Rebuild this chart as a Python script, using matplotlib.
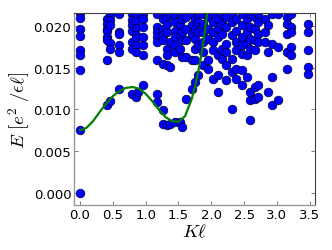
import matplotlib
matplotlib.use("Agg")
import matplotlib.pyplot as plt

# momentum columns and energies
k_cols = [0.0, 0.41, 0.46, 0.59, 0.79, 0.86, 0.89, 0.96, 1.17, 1.26, 1.32, 1.37,
          1.45, 1.52, 1.56, 1.62, 1.70, 1.75, 1.80, 1.88, 1.95, 2.03, 2.10, 2.16,
          2.23, 2.31, 2.38, 2.46, 2.54, 2.59, 2.66, 2.71, 2.82, 2.87, 2.92, 3.02,
          3.15, 3.22, 3.47]
e_cols = [
    [0.0216, 0.0210, 0.0197, 0.0188, 0.0172, 0.0166, 0.0147, 0.0075, 0.0],
    [0.0209, 0.0203, 0.0197, 0.0194, 0.0187, 0.0183, 0.0159, 0.0105],
    [0.0214, 0.0208, 0.0202, 0.0180, 0.0173, 0.0110],
    [0.0215, 0.0193, 0.0191, 0.0177, 0.0169, 0.0125],
    [0.0215, 0.0208, 0.0202, 0.0195, 0.0181, 0.0173, 0.0119],
    [0.0215, 0.0206, 0.0198, 0.0190, 0.0186, 0.0177, 0.0169, 0.0115],
    [0.0121],
    [0.0215, 0.0209, 0.0199, 0.0187, 0.0177, 0.0166, 0.0129],
    [0.0215, 0.0199, 0.0193, 0.0187, 0.0181, 0.0159, 0.0119, 0.0109],
    [0.0215, 0.0209, 0.0197, 0.0190, 0.0183, 0.0155, 0.0099, 0.0083],
    [0.0211, 0.0203, 0.0193, 0.0173, 0.0165, 0.0153, 0.0081],
    [0.0215, 0.0181, 0.0151, 0.0082],
    [0.0211, 0.0205, 0.0195, 0.0187, 0.0177, 0.0169, 0.0085],
    [0.0215, 0.0202, 0.0190, 0.0173, 0.0085],
    [0.0209, 0.0193, 0.0183, 0.0163, 0.0079],
    [0.0211, 0.0197, 0.0183, 0.0163, 0.0113],
    [0.0215, 0.0202, 0.0191, 0.0159, 0.0125],
    [0.0209, 0.0197, 0.0185, 0.0173, 0.0159, 0.0133],
    [0.0215, 0.0205, 0.0193, 0.0177, 0.0141],
    [0.0215, 0.0203, 0.0193, 0.0181, 0.0169, 0.0153],
    [0.0211, 0.0197, 0.0185, 0.0159, 0.0149],
    [0.0215, 0.0205, 0.0193, 0.0181, 0.0171, 0.0137],
    [0.0209, 0.0197, 0.0187, 0.0165, 0.0141, 0.0121],
    [0.0215, 0.0203, 0.0191, 0.0173, 0.0161],
    [0.0211, 0.0199, 0.0179, 0.0169, 0.0153, 0.0135],
    [0.0215, 0.0205, 0.0189, 0.0161, 0.0145, 0.0101],
    [0.0209, 0.0195, 0.0181, 0.0171, 0.0149, 0.0137],
    [0.0215, 0.0202, 0.0187, 0.0177, 0.0167, 0.0147, 0.0129],
    [0.0209, 0.0193, 0.0179, 0.0165, 0.0139],
    [0.0215, 0.0199, 0.0185, 0.0173, 0.0121, 0.0111, 0.0087],
    [0.0211, 0.0197, 0.0183, 0.0171, 0.0127, 0.0113],
    [0.0215, 0.0205, 0.0191, 0.0181, 0.0129, 0.0115],
    [0.0209, 0.0193, 0.0181],
    [0.0202, 0.0169, 0.0121],
    [0.0215, 0.0179, 0.0139, 0.0105],
    [0.0215, 0.0175, 0.0111],
    [0.0211, 0.0203, 0.0191, 0.0169, 0.0149],
    [0.0215, 0.0199, 0.0193, 0.0175, 0.0165],
    [0.0203, 0.0193, 0.0171, 0.0151, 0.0143],
]

# fitted dispersion curve
k_fit = [0.0, 0.05, 0.1, 0.2, 0.3, 0.4, 0.5, 0.6, 0.7, 0.8, 0.9, 1.0, 1.1,
         1.2, 1.3, 1.4, 1.5, 1.6, 1.7, 1.75, 1.8, 1.85, 1.9, 1.95, 2.0]
e_fit = [0.0075, 0.0076, 0.0078, 0.0086, 0.0097, 0.0107, 0.0116, 0.0122,
         0.0126, 0.0127, 0.0125, 0.0119, 0.0110, 0.0100, 0.0091, 0.0086,
         0.0085, 0.0092, 0.0112, 0.0127, 0.0145, 0.0166, 0.0192, 0.0225,
         0.0260]

ks, es = [], []
for k, col in zip(k_cols, e_cols):
    ks += [k] * len(col)
    es += col

plt.rcParams['mathtext.fontset'] = 'cm'
fig = plt.figure(figsize=(3.32, 2.51), dpi=100)
ax = fig.add_axes([0.223, 0.179, 0.726, 0.765])

ax.scatter(ks, es, s=40, c='blue', edgecolors='black', linewidths=0.4, zorder=2)
ax.plot(k_fit, e_fit, color='green', lw=1.6, zorder=3)

ax.set_xlim(-0.09, 3.58)
ax.set_ylim(-0.0015, 0.0216)
ax.set_xticks([0.0, 0.5, 1.0, 1.5, 2.0, 2.5, 3.0, 3.5])
ax.set_yticks([0.0, 0.005, 0.010, 0.015, 0.020])
ax.set_yticklabels(['0.000', '0.005', '0.010', '0.015', '0.020'])
ax.tick_params(direction='in', top=True, right=True, length=3, width=0.6,
               color='0.4', labelsize=9.5, pad=2)
for side in ['left', 'bottom']:
    ax.spines[side].set_color('0.6')
    ax.spines[side].set_linewidth(1.0)
for side in ['top', 'right']:
    ax.spines[side].set_color('0.25')
    ax.spines[side].set_linewidth(0.8)

ax.set_xlabel(r'$K\ell$', fontsize=13.5, labelpad=0)
ax.set_ylabel(r'$E\ [e^2\ /\epsilon\ell]$', fontsize=13.5, labelpad=1)

fig.savefig('out.png', dpi=100)
